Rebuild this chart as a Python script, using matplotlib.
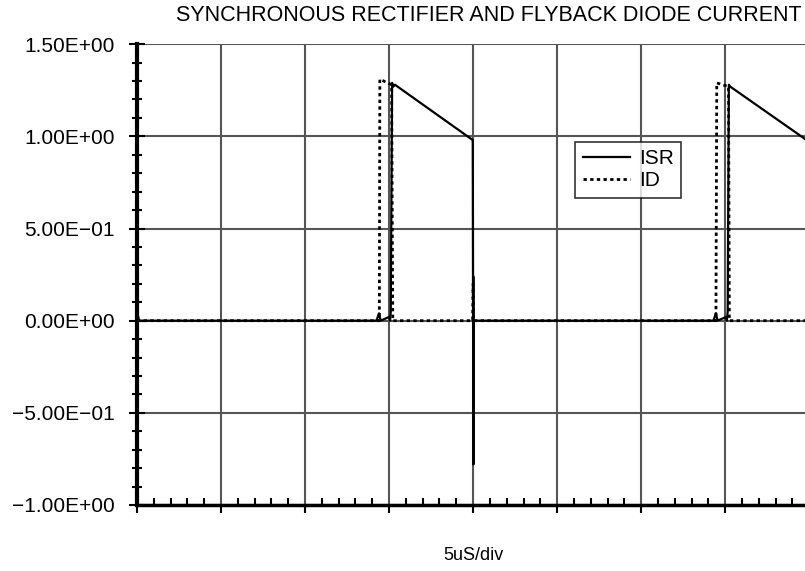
import numpy as np
import matplotlib.pyplot as plt
from matplotlib.ticker import MultipleLocator, FuncFormatter

plt.rcParams['font.family'] = ['Liberation Sans', 'DejaVu Sans']

# time in microseconds (5 us per division, 8 divisions)
t_isr = [0, 0.05, 0.12, 14.25, 14.4, 14.5, 15.0, 15.06, 15.1, 15.18, 15.25, 15.35,
         19.98, 20.0, 20.01, 20.02, 20.03, 20.05, 34.3, 34.45, 34.55, 35.05, 35.1,
         35.15, 35.22, 35.3, 40.0]
isr = [0, 0.03, 0, 0, 0.04, 0, 0.02, 0, 0.05, 1.29, 1.27, 1.28,
       0.98, 0.0, 0.24, -0.78, 0.0, 0, 0, 0.04, 0, 0.02, 0,
       0.05, 1.28, 1.27, 0.97]

t_id = [0, 14.42, 14.45, 15.15, 15.22, 19.97, 20.0, 20.03, 34.45, 34.5, 35.2, 35.25, 40.0]
i_d = [0, 0, 1.31, 1.28, 0, 0, 0.2, 0, 0, 1.29, 1.27, 0, 0]

fig = plt.figure(figsize=(8.05, 5.71), dpi=100)
ax = fig.add_axes([0.1702, 0.1156, 0.835, 0.807])

ax.plot(t_isr, isr, color='black', lw=1.6, label='ISR')
ax.plot(t_id, i_d, color='black', lw=2, linestyle=(0, (1.2, 1.2)), label='ID')

ax.set_xlim(0, 40)
ax.set_ylim(-1.0, 1.5)
ax.xaxis.set_major_locator(MultipleLocator(5))
ax.xaxis.set_minor_locator(MultipleLocator(1))
ax.yaxis.set_major_locator(MultipleLocator(0.5))
ax.yaxis.set_minor_locator(MultipleLocator(0.1))
ax.grid(which='major', color='#555555', lw=1.5)
ax.set_axisbelow(True)

def sci(v, pos):
    s = '%.2E' % v
    if abs(v) < 1e-9:
        s = '0.00E+00'
    return s.replace('-', '\u2212')

ax.yaxis.set_major_formatter(FuncFormatter(sci))
ax.set_xticklabels([])
ax.tick_params(axis='y', which='major', direction='inout', length=12, width=1.5,
               labelsize=15, pad=10)
ax.tick_params(axis='y', which='minor', direction='inout', length=7, width=1.5)
ax.tick_params(axis='x', which='major', direction='out', length=6, width=1.5)
ax.tick_params(axis='x', which='minor', direction='in', length=5, width=1.5)

for s in ['top', 'right']:
    ax.spines[s].set_visible(False)
ax.spines['left'].set_linewidth(3)
ax.spines['bottom'].set_linewidth(2.5)

leg = ax.legend(loc='upper left', bbox_to_anchor=(0.652, 0.788), fontsize=15,
                frameon=True, fancybox=False, edgecolor='black', handlelength=2.3,
                handletextpad=0.4, borderpad=0.35, labelspacing=0.15, borderaxespad=0)
leg.get_frame().set_linewidth(1.2)

fig.text(0.607, 0.972, 'SYNCHRONOUS RECTIFIER AND FLYBACK DIODE CURRENT',
         ha='center', va='center', fontsize=15.5)
fig.text(0.588, 0.028, '5uS/div', ha='center', va='center', fontsize=13)

fig.savefig('out.png', dpi=100)
